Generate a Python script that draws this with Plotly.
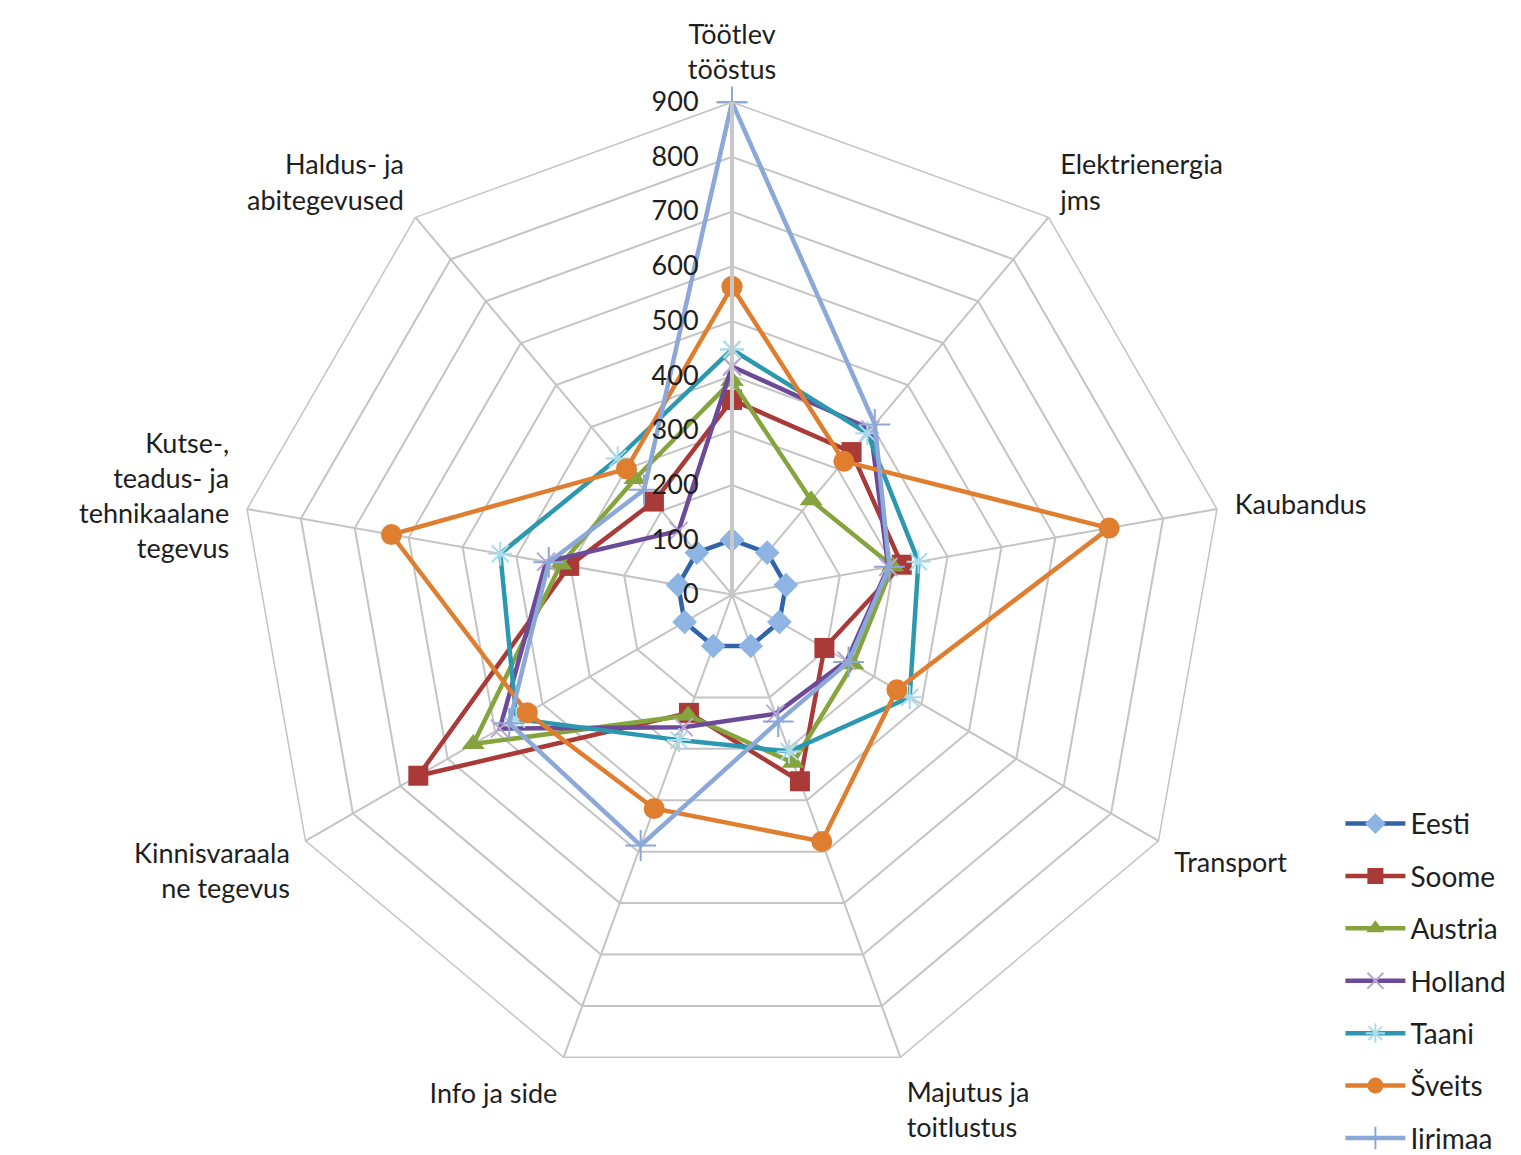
import plotly.graph_objects as go

categories = ["Töötlev<br>tööstus", "Elektrienergia<br>jms", "Kaubandus", "Transport",
              "Majutus ja<br>toitlustus", "Info ja side", "Kinnisvaraala<br>ne tegevus",
              "Kutse-,<br>teadus- ja<br>tehnikaalane<br>tegevus", "Haldus- ja<br>abitegevused"]

eesti   = [100, 100, 100, 100, 100, 100, 100, 100, 100]
soome   = [356, 340, 315, 195, 363, 230, 662, 302, 222]
austria = [391, 225, 298, 255, 327, 235, 546, 318, 276]
holland = [417, 394, 290, 242, 232, 258, 490, 345, 152]
taani   = [448, 385, 346, 375, 305, 283, 455, 430, 325]
sveits  = [563, 318, 700, 348, 480, 416, 432, 632, 300]
iirimaa = [900, 406, 292, 246, 247, 488, 470, 340, 250]

radial_ticks = [0, 100, 200, 300, 400, 500, 600, 700, 800, 900]

series = [
    ("Eesti", eesti, "#2F64A8", "diamond", "#8DB4E3", 19),
    ("Soome", soome, "#A93A38", "square", "#A93A38", 20),
    ("Austria", austria, "#86A43E", "triangle-up", "#86A43E", 20),
    ("Holland", holland, "#6C4A98", "x-thin", "#B9A7D6", 18),
    ("Taani", taani, "#2B98B0", "asterisk", "#A8DCEB", 20),
    ("Šveits", sveits, "#E07E2F", "circle", "#E07E2F", 21),
    ("Iirimaa", iirimaa, "#8CA8D8", "cross-thin", "#8CA8D8", 22),
]

fig = go.Figure()
for name, vals, col, sym, mcol, msize in series:
    thin = sym.endswith("-thin") or sym == "asterisk"
    marker = dict(symbol=sym, size=msize, color=mcol,
                  line=dict(color=mcol, width=2 if thin else 0))
    fig.add_trace(go.Scatterpolar(
        r=vals + vals[:1],
        theta=categories + categories[:1],
        mode="lines+markers",
        name=name,
        legendgroup=name,
        line=dict(color=col, width=4.5),
        marker=marker,
    ))

cx, cy, R = 724, 598, 502
fig.update_layout(
    width=1521, height=1155,
    paper_bgcolor="white",
    margin=dict(l=0, r=0, t=0, b=0),
    font=dict(family="Lato, Open Sans, sans-serif", size=28, color="#1E1E1E"),
    polar=dict(
        domain=dict(x=[(cx - R) / 1521, (cx + R) / 1521],
                    y=[(1155 - cy - R) / 1155, (1155 - cy + R) / 1155]),
        bgcolor="white",
        gridshape="linear",
        angularaxis=dict(
            direction="clockwise", rotation=90,
            tickfont=dict(size=27, color="#1E1E1E"),
            gridcolor="#C4C4C4", gridwidth=1.5,
            linecolor="#C4C4C4", linewidth=1.5,
            ticks="outside", ticklen=12, tickcolor="rgba(0,0,0,0)",
        ),
        radialaxis=dict(
            range=[0, 900],
            tickvals=radial_ticks,
            ticktext=[str(v) for v in radial_ticks],
            angle=90, tickangle=90,
            side="counterclockwise",
            tickfont=dict(size=27, color="#1E1E1E"),
            gridcolor="#C4C4C4", gridwidth=1.5,
            showline=True, linecolor="#C8C8C8", linewidth=4,
            ticks="outside", ticklen=22, tickcolor="rgba(0,0,0,0)",
        ),
    ),
    legend=dict(
        x=0.876, y=0.302, xanchor="left", yanchor="top",
        font=dict(size=28, color="#1E1E1E"),
        tracegroupgap=13,
        bgcolor="rgba(0,0,0,0)",
        itemwidth=60,
    ),
    showlegend=True,
)

fig.write_html("out.html")
